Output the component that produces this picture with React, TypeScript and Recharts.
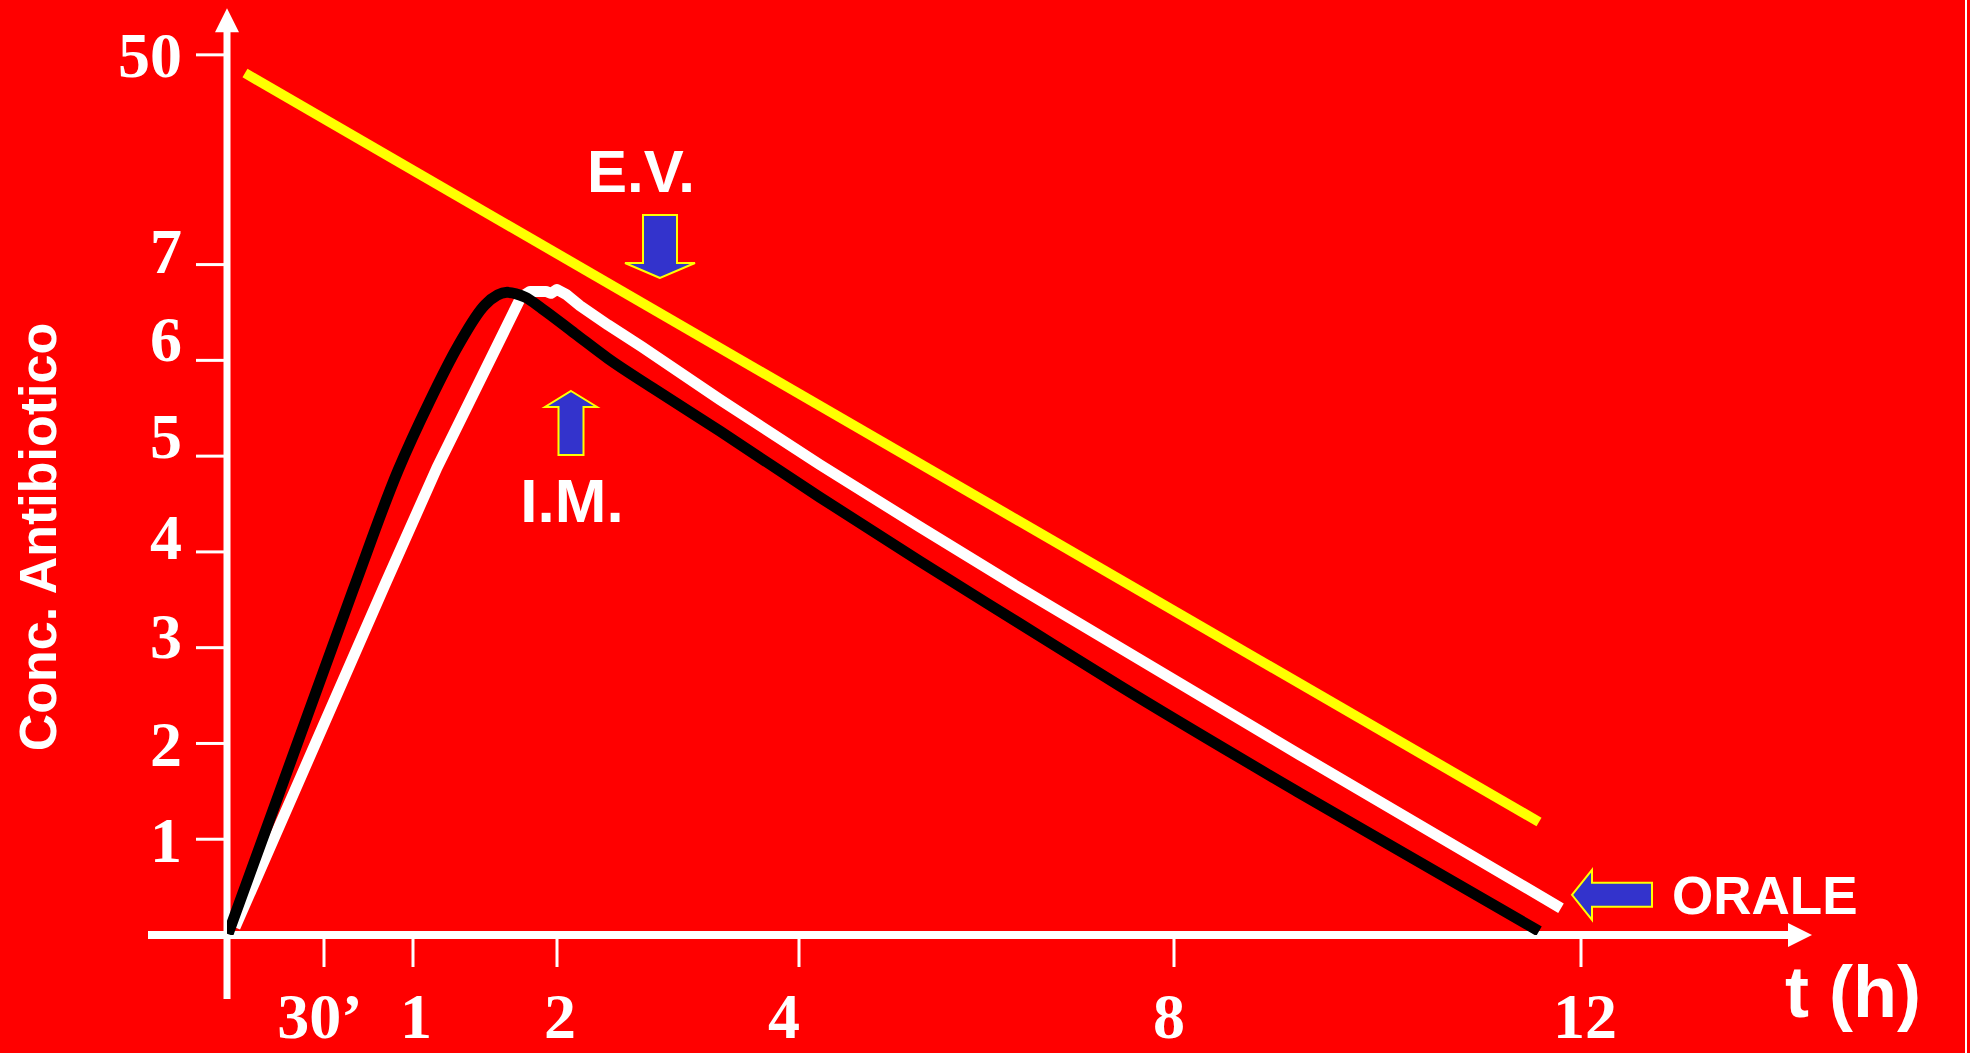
import { Line, LineChart, ReferenceDot, ReferenceLine, XAxis, YAxis } from "recharts";

// Schematic chart: both axes are drawn at uneven spacing, so the values below are
// positions on the drawn axes (the "50" tick sits at 9.19, the hour ticks are uneven).
const X_TICK_POS = [0.97, 1.86, 3.3, 5.72, 9.47, 13.54];
const X_TICK_LABELS = ["30’", "1", "2", "4", "8", "12"];
const Y_TICK_POS = [1, 2, 3, 4, 5, 6, 7, 9.19];
const Y_TICK_LABELS = ["1", "2", "3", "4", "5", "6", "7", "50"];

// E.V. (endovenosa)
const EV_X = [0.18, 13.12];
const EV_Y = [9.0, 1.18];

// I.M. (intramuscolare)
const IM_X = [0.08, 1.58, 2.1, 2.94, 3.03, 3.19, 3.24, 3.3, 3.39, 3.53, 3.81, 4.15, 4.93, 5.93, 6.93, 7.93, 8.93, 10.73, 13.34];
const IM_Y = [0.08, 3.66, 4.88, 6.66, 6.72, 6.72, 6.7, 6.74, 6.69, 6.57, 6.37, 6.14, 5.59, 4.91, 4.26, 3.62, 3.0, 1.88, 0.28];

// ORALE
const OS_X = [0.01, 1.26, 1.71, 2.03, 2.31, 2.58, 2.8, 2.98, 3.15, 3.48, 3.81, 4.26, 4.93, 5.93, 6.93, 7.93, 8.93, 10.73, 13.12];
const OS_Y = [0.01, 3.6, 4.85, 5.58, 6.15, 6.58, 6.71, 6.66, 6.54, 6.28, 6.02, 5.71, 5.26, 4.57, 3.9, 3.25, 2.6, 1.48, 0.04];

const toPoints = (xs: number[], ys: number[]) => xs.map((x, i) => ({ x, y: ys[i] }));

const SERIF = '"Liberation Serif", "Times New Roman", serif';
const SANS = '"Liberation Sans", Arial, sans-serif';
const RED = "#FF0000";
const BLUE = "#3333CC";
const YELLOW = "#FFFF00";

const pts = (list: number[][], cx: number, cy: number) =>
  list.map(([dx, dy]) => `${cx + dx},${cy + dy}`).join(" ");

function AxisArrow(props: any) {
  const { x1, y1, x2, y2, strokeWidth } = props;
  const len = Math.hypot(x2 - x1, y2 - y1) || 1;
  const ux = (x2 - x1) / len;
  const uy = (y2 - y1) / len;
  const head = 24;
  const half = 12;
  const bx = x2 - ux * head;
  const by = y2 - uy * head;
  return (
    <g>
      <line x1={x1} y1={y1} x2={bx + ux * 2} y2={by + uy * 2} stroke="#fff" strokeWidth={strokeWidth} />
      <polygon
        points={`${x2},${y2} ${bx - uy * half},${by + ux * half} ${bx + uy * half},${by - ux * half}`}
        fill="#fff"
      />
    </g>
  );
}

function XTick(props: any) {
  const { x, y, payload } = props;
  const i = X_TICK_POS.indexOf(payload.value);
  // the labels on the slide are not exactly centred under their ticks
  const nudge = [-4, 3, 3, -15, -5, 4][i] ?? 0;
  return (
    <g>
      <line x1={x} x2={x} y1={y} y2={y + 32} stroke="#fff" strokeWidth={3} />
      <text x={x + nudge} y={y + 103} textAnchor="middle" fill="#fff" fontFamily={SERIF} fontWeight="bold" fontSize={64}>
        {X_TICK_LABELS[i]}
      </text>
    </g>
  );
}

function YTick(props: any) {
  const { x, y, payload } = props;
  const i = Y_TICK_POS.indexOf(payload.value);
  const nudge = [2, 2, -11, -14, -19, -20, -13, 1][i] ?? 0;
  return (
    <g>
      <line x1={x - 31} x2={x} y1={y} y2={y} stroke="#fff" strokeWidth={3} />
      <text x={x - 45} y={y + 21 + nudge} textAnchor="end" fill="#fff" fontFamily={SERIF} fontWeight="bold" fontSize={64}>
        {Y_TICK_LABELS[i]}
      </text>
    </g>
  );
}

const XTitle = (props: any) => {
  const vb = props.viewBox ?? { x: 227, y: 935, width: 1600, height: 118 };
  return (
    <text x={vb.x + vb.width - 42} y={vb.y + 82} fill="#fff" fontFamily={SANS} fontWeight="bold" fontSize={72}>
      t (h)
    </text>
  );
};

const YTitle = (props: any) => {
  const vb = props.viewBox ?? { x: 0, y: 6, width: 227, height: 929 };
  const cx = vb.x + 56;
  const cy = vb.y + 531;
  return (
    <text
      x={cx}
      y={cy}
      textAnchor="middle"
      transform={`rotate(-90 ${cx} ${cy})`}
      fill="#fff"
      fontFamily={SANS}
      fontWeight="bold"
      fontSize={52}
    >
      Conc. Antibiotico
    </text>
  );
};

const EvMarker = ({ cx, cy }: any) => (
  <g>
    <polygon
      points={pts([[0, 0], [-35, -15], [-17, -15], [-17, -63], [17, -63], [17, -15], [35, -15]], cx, cy)}
      fill={BLUE}
      stroke={YELLOW}
      strokeWidth={2}
    />
    <text x={cx - 19} y={cy - 86} textAnchor="middle" fill="#fff" fontFamily={SANS} fontWeight="bold" fontSize={60}>
      E.V.
    </text>
  </g>
);

const ImMarker = ({ cx, cy }: any) => (
  <g>
    <polygon
      points={pts([[0, 0], [26, 16], [12.5, 16], [12.5, 64], [-12.5, 64], [-12.5, 16], [-26, 16]], cx, cy)}
      fill={BLUE}
      stroke={YELLOW}
      strokeWidth={2}
    />
    <text x={cx + 1} y={cy + 131} textAnchor="middle" fill="#fff" fontFamily={SANS} fontWeight="bold" fontSize={62}>
      I.M.
    </text>
  </g>
);

const OsMarker = ({ cx, cy }: any) => (
  <g>
    <polygon
      points={pts([[0, 0], [20, -25], [20, -12], [80, -12], [80, 12], [20, 12], [20, 25]], cx, cy)}
      fill={BLUE}
      stroke={YELLOW}
      strokeWidth={2}
    />
    <text x={cx + 100} y={cy + 19} fill="#fff" fontFamily={SANS} fontWeight="bold" fontSize={53}>
      ORALE
    </text>
  </g>
);

export default function App() {
  return (
    <div style={{ position: "absolute", left: 0, top: 0, width: 1970, height: 1053, background: RED }}>
      <LineChart width={1970} height={1053} margin={{ top: 6, right: 143, bottom: 0, left: 0 }}>
        <XAxis
          type="number"
          dataKey="x"
          domain={[0, 16]}
          allowDataOverflow
          ticks={X_TICK_POS}
          interval={0}
          axisLine={false}
          tickLine={false}
          tickSize={0}
          tickMargin={0}
          height={118}
          tick={(p: any) => <XTick {...p} />}
          label={(p: any) => <XTitle {...p} />}
        />
        <YAxis
          type="number"
          domain={[0, 9.7]}
          allowDataOverflow
          ticks={Y_TICK_POS}
          interval={0}
          axisLine={false}
          tickLine={false}
          tickSize={0}
          tickMargin={0}
          width={227}
          tick={(p: any) => <YTick {...p} />}
          label={(p: any) => <YTitle {...p} />}
        />
        <ReferenceLine
          segment={[{ x: 0, y: -0.668 }, { x: 0, y: 9.676 }]}
          ifOverflow="visible"
          stroke="#fff"
          strokeWidth={7}
          shape={(p: any) => <AxisArrow {...p} />}
        />
        <ReferenceLine
          segment={[{ x: -0.79, y: 0 }, { x: 15.85, y: 0 }]}
          ifOverflow="visible"
          stroke="#fff"
          strokeWidth={8}
          shape={(p: any) => <AxisArrow {...p} />}
        />
        <Line
          data={toPoints(EV_X, EV_Y)}
          dataKey="y"
          type="linear"
          stroke={YELLOW}
          strokeWidth={10}
          dot={false}
          activeDot={false}
          isAnimationActive={false}
        />
        <Line
          data={toPoints(IM_X, IM_Y)}
          dataKey="y"
          type="linear"
          stroke="#fff"
          strokeWidth={11}
          strokeLinejoin="round"
          dot={false}
          activeDot={false}
          isAnimationActive={false}
        />
        <Line
          data={toPoints(OS_X, OS_Y)}
          dataKey="y"
          type="monotone"
          stroke="#000"
          strokeWidth={11}
          strokeLinejoin="round"
          dot={false}
          activeDot={false}
          isAnimationActive={false}
        />
        <ReferenceDot x={4.33} y={6.86} r={0} shape={(p: any) => <EvMarker {...p} />} />
        <ReferenceDot x={3.44} y={5.68} r={0} shape={(p: any) => <ImMarker {...p} />} />
        <ReferenceDot x={13.45} y={0.42} r={0} shape={(p: any) => <OsMarker {...p} />} />
      </LineChart>
      <div style={{ position: "absolute", left: 1965, top: 0, width: 2, height: 1053, background: "#fff" }} />
    </div>
  );
}
